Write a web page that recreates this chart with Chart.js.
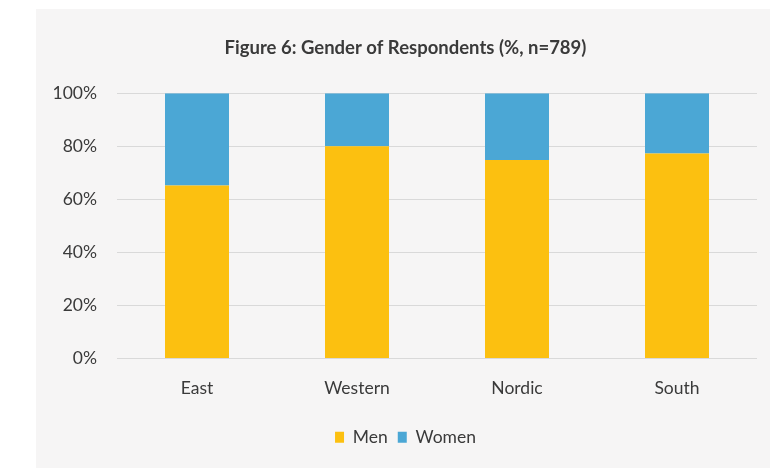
<!DOCTYPE html>
<html>
<head>
<meta charset="utf-8">
<script src="https://cdn.jsdelivr.net/npm/chart.js@4/dist/chart.umd.min.js"></script>
<style>
  body { margin: 0; background: #ffffff; }
  #box { position: absolute; left: 36px; top: 9px; width: 734px; height: 459px; background: #f6f5f5; }
  #genderChart { position: absolute; left: 0; top: 0; }
</style>
</head>
<body>
<div id="box"></div>
<canvas id="genderChart" width="770" height="468"></canvas>
<script>
const regions = ["East", "Western", "Nordic", "South"];
const menPct = [65.2, 80, 74.8, 77.3];
const womenPct = [34.8, 20, 25.2, 22.7];
const titleText = "Figure 6: Gender of Respondents (%, n=789)";

const textColor = "#3a3a3a";
const fontFamily = "Lato, 'Open Sans', sans-serif";

const ctx = document.getElementById("genderChart").getContext("2d");
new Chart(ctx, {
    type: "bar",
    data: {
        labels: regions,
        datasets: [
            {
                label: "Men",
                data: menPct,
                backgroundColor: "#fcc010",
                barPercentage: 0.4,
                categoryPercentage: 1,
            },
            {
                label: "Women",
                data: womenPct,
                backgroundColor: "#4ba7d5",
                barPercentage: 0.4,
                categoryPercentage: 1,
            },
        ],
    },
    options: {
        responsive: false,
        animation: false,
        layout: {
            padding: { left: 54, right: 13, top: 0, bottom: 12 },
        },
        plugins: {
            title: {
                display: true,
                text: titleText,
                color: textColor,
                font: { family: fontFamily, size: 18.5, weight: "bold" },
                padding: { top: 37, bottom: 34 },
            },
            legend: {
                position: "bottom",
                labels: {
                    color: textColor,
                    font: { family: fontFamily, size: 17.5 },
                    boxWidth: 9,
                    boxHeight: 11,
                    padding: 10,
                },
            },
            tooltip: { enabled: false },
        },
        scales: {
            x: {
                stacked: true,
                grid: { display: false },
                border: { display: false },
                ticks: {
                    color: textColor,
                    font: { family: fontFamily, size: 17.5 },
                    padding: 11,
                },
                afterFit: function (scale) { scale.height = 60; },
            },
            y: {
                stacked: true,
                min: 0,
                max: 100,
                grid: { color: "#d9d9d9", drawTicks: false },
                border: { display: false },
                ticks: {
                    stepSize: 20,
                    color: textColor,
                    font: { family: fontFamily, size: 17.5 },
                    padding: 20,
                    callback: function (value) { return value + "%"; },
                },
                afterFit: function (scale) { scale.width = 63; },
            },
        },
    },
});
</script>
</body>
</html>
